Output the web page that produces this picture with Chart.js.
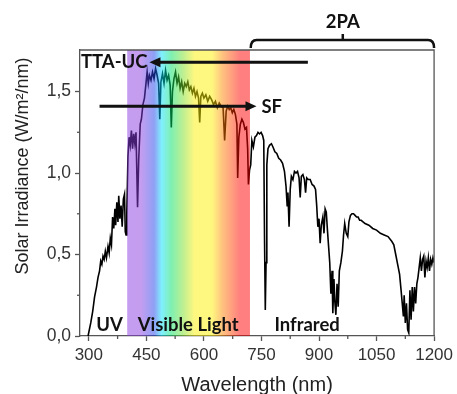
<!DOCTYPE html>
<html>
<head>
<meta charset="utf-8">
<script src="https://cdn.jsdelivr.net/npm/chart.js@4/dist/chart.umd.min.js"></script>
<style>
  html, body { margin: 0; padding: 0; background: #fff; }
  canvas { display: block; }
</style>
</head>
<body>
<canvas id="spectrumChart" width="457" height="394"></canvas>
<script>
const wavelengths = [
  298, 305, 310, 315, 320, 324, 328, 331, 334, 337, 340, 343, 346, 350, 353, 356, 359, 362, 365, 368,
  370, 373, 376, 378, 381, 384, 387, 390, 393, 395, 397, 399, 402, 405, 408, 411, 414, 417, 420, 423,
  427, 430, 434, 437, 441, 445, 449, 452, 455, 458, 462, 466, 470, 474, 478, 482, 485, 488, 492, 496,
  500, 504, 508, 512, 515, 518, 522, 526, 530, 534, 538, 542, 546, 550, 554, 558, 562, 566, 570, 574,
  578, 582, 586, 589, 592, 596, 600, 605, 610, 615, 620, 625, 630, 635, 640, 645, 650, 654, 658, 662,
  666, 670, 674, 678, 682, 686, 688, 691, 695, 699, 703, 707, 711, 714, 716, 719, 722, 725, 729, 733,
  737, 741, 745, 749, 753, 756, 758, 760, 762, 764, 767, 771, 776, 780, 785, 790, 795, 800, 805, 810,
  814, 817, 819, 822, 825, 828, 832, 836, 840, 844, 848, 851, 854, 858, 862, 865, 868, 872, 877, 882,
  887, 891, 894, 897, 900, 903, 906, 910, 913, 916, 919, 922, 925, 928, 931, 934, 936, 939, 941, 944,
  947, 950, 953, 957, 961, 964, 967, 971, 975, 978, 982, 986, 990, 994, 998, 1002, 1006, 1010, 1020, 1030,
  1040, 1050, 1060, 1070, 1080, 1090, 1095, 1100, 1105, 1110, 1114, 1117, 1120, 1122, 1125, 1128, 1131, 1134, 1137, 1140,
  1143, 1146, 1149, 1152, 1155, 1158, 1161, 1164, 1167, 1170, 1173, 1176, 1179, 1182, 1185, 1188, 1191, 1194, 1197, 1200
];
const irradiance = [
  0.00, 0.08, 0.15, 0.24, 0.30, 0.36, 0.40, 0.46, 0.44, 0.49, 0.47, 0.52, 0.48, 0.55, 0.51, 0.60, 0.56, 0.73, 0.66, 0.78,
  0.68, 0.82, 0.70, 0.86, 0.72, 0.80, 0.67, 0.84, 0.87, 0.64, 0.62, 0.75, 1.10, 1.22, 1.17, 1.26, 1.15, 1.24, 1.18, 1.25,
  0.79, 1.08, 1.30, 1.33, 1.42, 1.46, 1.55, 1.62, 1.55, 1.60, 1.57, 1.62, 1.58, 1.64, 1.60, 1.55, 1.33, 1.56, 1.61, 1.55,
  1.63, 1.57, 1.60, 1.54, 1.28, 1.50, 1.58, 1.62, 1.55, 1.59, 1.52, 1.56, 1.50, 1.55, 1.53, 1.56, 1.51, 1.53, 1.49, 1.52,
  1.47, 1.50, 1.46, 1.31, 1.47, 1.49, 1.46, 1.48, 1.44, 1.47, 1.45, 1.42, 1.44, 1.40, 1.43, 1.41, 1.40, 1.20, 1.38, 1.41,
  1.39, 1.40, 1.37, 1.39, 1.36, 1.30, 0.97, 1.22, 1.30, 1.33, 1.31, 1.27, 1.28, 1.15, 0.93, 1.02, 1.05, 1.20, 1.16, 1.22,
  1.23, 1.25, 1.24, 1.25, 1.23, 1.20, 0.60, 0.16, 0.45, 1.05, 1.15, 1.17, 1.18, 1.16, 1.13, 1.12, 1.09, 1.08, 1.06, 1.01,
  0.92, 0.80, 0.88, 0.67, 0.90, 0.98, 0.96, 1.01, 1.00, 1.01, 0.97, 0.85, 0.98, 0.99, 0.96, 0.88, 0.97, 0.96, 0.96, 0.93,
  0.92, 0.90, 0.80, 0.67, 0.72, 0.57, 0.68, 0.73, 0.63, 0.78, 0.76, 0.65, 0.55, 0.45, 0.26, 0.40, 0.14, 0.35, 0.22, 0.13,
  0.32, 0.18, 0.40, 0.45, 0.52, 0.62, 0.69, 0.63, 0.61, 0.70, 0.74, 0.75, 0.75, 0.74, 0.73, 0.73, 0.71, 0.71, 0.69, 0.68,
  0.66, 0.65, 0.63, 0.62, 0.61, 0.58, 0.56, 0.50, 0.44, 0.38, 0.28, 0.20, 0.12, 0.25, 0.08, 0.20, 0.04, 0.02, 0.28, 0.10,
  0.30, 0.15, 0.30, 0.20, 0.32, 0.36, 0.42, 0.48, 0.40, 0.47, 0.49, 0.36, 0.46, 0.42, 0.48, 0.40, 0.47, 0.44, 0.48, 0.45
];

const xMajorTicks = [300, 450, 600, 750, 900, 1050, 1200];
const xMinorTicks = [375, 525, 675, 825, 975, 1125];
const yMajorTicks = [0, 0.5, 1.0, 1.5];
const yMinorTicks = [0.25, 0.75, 1.25];
const visibleRange = [400, 720];
const yTitle = 'Solar Irradiance (W/m²/nm)';

// rainbow over the visible part, laid on the curve at half alpha
const bandStops = [
  [0.00, 'rgb(140,60,225)'],
  [0.11, 'rgb(140,60,225)'],
  [0.22, 'rgb(30,65,235)'],
  [0.28, 'rgb(0,225,255)'],
  [0.36, 'rgb(0,225,100)'],
  [0.46, 'rgb(130,225,35)'],
  [0.55, 'rgb(255,241,0)'],
  [0.69, 'rgb(255,241,0)'],
  [0.78, 'rgb(255,130,0)'],
  [0.92, 'rgb(255,0,0)'],
  [1.00, 'rgb(255,0,0)']
];

function drawArrow(ctx, xFrom, xTip, yy) {
  const dir = Math.sign(xTip - xFrom);
  ctx.beginPath();
  ctx.moveTo(xFrom, yy);
  ctx.lineTo(xTip - dir * 8, yy);
  ctx.stroke();
  ctx.beginPath();
  ctx.moveTo(xTip, yy);
  ctx.lineTo(xTip - dir * 11, yy - 5);
  ctx.lineTo(xTip - dir * 11, yy + 5);
  ctx.closePath();
  ctx.fill();
}

const decorPlugin = {
  id: 'decor',
  afterDatasetsDraw(chart) {
    const { ctx, chartArea: a, scales: { x } } = chart;
    const x0 = x.getPixelForValue(visibleRange[0]);
    const x1 = x.getPixelForValue(visibleRange[1]);
    const g = ctx.createLinearGradient(x0, 0, x1, 0);
    bandStops.forEach(([p, c]) => g.addColorStop(p, c));
    ctx.save();
    ctx.globalAlpha = 0.5;
    ctx.fillStyle = g;
    ctx.fillRect(x0, a.top, x1 - x0, a.bottom - a.top);
    ctx.restore();
  },
  afterDraw(chart) {
    const { ctx, chartArea: a, scales: { x, y } } = chart;
    ctx.save();

    // frame top/right
    ctx.strokeStyle = '#555';
    ctx.lineWidth = 1.3;
    ctx.beginPath();
    ctx.moveTo(a.left, a.top);
    ctx.lineTo(a.right, a.top);
    ctx.lineTo(a.right, a.bottom);
    ctx.stroke();

    // minor ticks
    xMinorTicks.forEach(v => {
      const px = x.getPixelForValue(v);
      ctx.beginPath(); ctx.moveTo(px, a.bottom); ctx.lineTo(px, a.bottom + 3); ctx.stroke();
    });
    yMinorTicks.forEach(v => {
      const py = y.getPixelForValue(v);
      ctx.beginPath(); ctx.moveTo(a.left, py); ctx.lineTo(a.left - 3, py); ctx.stroke();
    });

    // y title sits a bit above the middle in the original
    ctx.save();
    ctx.translate(23, 166);
    ctx.rotate(-Math.PI / 2);
    ctx.fillStyle = '#222';
    ctx.font = '18px "Liberation Sans"';
    ctx.textAlign = 'center';
    ctx.textBaseline = 'middle';
    ctx.fillText(yTitle, 0, 0);
    ctx.restore();

    ctx.fillStyle = '#111';
    ctx.strokeStyle = '#111';
    ctx.lineWidth = 3;
    ctx.font = 'bold 18.5px Lato';
    ctx.textBaseline = 'middle';

    // TTA-UC
    const yT = y.getPixelForValue(1.68);
    drawArrow(ctx, x.getPixelForValue(871), x.getPixelForValue(458), yT);
    ctx.textAlign = 'right';
    ctx.fillText('TTA-UC', x.getPixelForValue(453), yT);

    // SF
    const yS = y.getPixelForValue(1.41);
    drawArrow(ctx, x.getPixelForValue(328), x.getPixelForValue(737), yS);
    ctx.textAlign = 'left';
    ctx.fillText('SF', x.getPixelForValue(750), yS + 1);

    // 2PA bracket
    const bl = x.getPixelForValue(722), br = a.right, bt = a.top - 10, bm = x.getPixelForValue(962);
    ctx.lineWidth = 2.5;
    ctx.beginPath();
    ctx.moveTo(bl, a.top - 2);
    ctx.quadraticCurveTo(bl, bt, bl + 6, bt);
    ctx.lineTo(br - 6, bt);
    ctx.quadraticCurveTo(br, bt, br, a.top - 2);
    ctx.stroke();
    ctx.beginPath();
    ctx.moveTo(bm, bt);
    ctx.lineTo(bm, bt - 6);
    ctx.stroke();
    ctx.textAlign = 'center';
    ctx.fillText('2PA', bm, 22);

    // regions
    const yR = y.getPixelForValue(0.067);
    ctx.fillText('UV', x.getPixelForValue(354), yR);
    ctx.fillText('Visible Light', x.getPixelForValue(559), yR);
    ctx.fillText('Infrared', x.getPixelForValue(869), yR);

    ctx.restore();
  }
};

const ctxSpectrum = document.getElementById('spectrumChart').getContext('2d');
const spectrumChart = new Chart(ctxSpectrum, {
  type: 'line',
  data: {
    datasets: [{
      data: wavelengths.map((w, i) => ({ x: w, y: irradiance[i] })),
      borderColor: '#000',
      borderWidth: 1.6,
      pointRadius: 0,
      tension: 0,
      fill: false
    }]
  },
  options: {
    responsive: false,
    animation: false,
    devicePixelRatio: 1,
    layout: { padding: { top: 50, right: 20, left: 0, bottom: 0 } },
    plugins: {
      legend: { display: false },
      tooltip: { enabled: false }
    },
    scales: {
      x: {
        type: 'linear',
        min: 277,
        max: 1200,
        afterFit: s => { s.height = 58; },
        afterBuildTicks: s => { s.ticks = xMajorTicks.map(v => ({ value: v })); },
        grid: { drawOnChartArea: false, tickLength: 5, tickColor: '#555', tickWidth: 1.3 },
        border: { color: '#555', width: 1.3 },
        ticks: {
          autoSkip: false,
          maxRotation: 0,
          padding: 4,
          color: '#333',
          font: { family: 'Liberation Sans', size: 17 },
          callback: v => String(v)
        },
        title: {
          display: true,
          text: 'Wavelength (nm)',
          color: '#222',
          font: { family: 'Liberation Sans', size: 20, lineHeight: 0.9 },
          padding: { top: 0, bottom: 0 }
        }
      },
      y: {
        min: 0,
        max: 1.755,
        afterFit: s => { s.width = 80; },
        afterBuildTicks: s => { s.ticks = yMajorTicks.map(v => ({ value: v })); },
        grid: { drawOnChartArea: false, tickLength: 5, tickColor: '#555', tickWidth: 1.3 },
        border: { color: '#555', width: 1.3 },
        ticks: {
          padding: 4,
          color: '#333',
          font: { family: 'Liberation Sans', size: 17.5 },
          callback: v => v.toFixed(1).replace('.', ',')
        },
        title: { display: false }
      }
    }
  },
  plugins: [decorPlugin]
});
</script>
</body>
</html>
